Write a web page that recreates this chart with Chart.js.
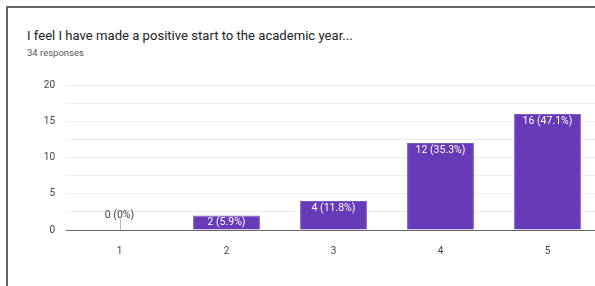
<!DOCTYPE html>
<html lang="en">
<head>
    <meta charset="UTF-8">
    <title>I feel I have made a positive start to the academic year...</title>
    <style>
        html, body { margin: 0; padding: 0; background: #fff; }
        body { width: 595px; height: 286px; overflow: hidden; position: relative; font-family: Roboto, Arial, sans-serif; }
        .frame { position: absolute; left: 6px; top: 6px; width: 620px; height: 300px; border-top: 2px solid #666; border-left: 2px solid #666; }
        .title { position: absolute; left: 27px; top: 28px; font-size: 13.1px; color: #212121; white-space: nowrap; }
        .sub { position: absolute; left: 27px; top: 47px; font-size: 9.5px; color: #555; white-space: nowrap; }
        #wrap { position: absolute; left: 0; top: 0; width: 595px; height: 286px; overflow: hidden; }
    </style>
</head>
<body>
<div class="frame"></div>
<div class="title">I feel I have made a positive start to the academic year...</div>
<div class="sub">34 responses</div>
<div id="wrap"><canvas id="myChart" width="640" height="286"></canvas></div>

<script src="https://cdn.jsdelivr.net/npm/chart.js@4/dist/chart.umd.min.js"></script>
<script>
    var categories = ['1', '2', '3', '4', '5'];
    var counts = [0, 2, 4, 12, 16];
    var percents = ['0%', '5.9%', '11.8%', '35.3%', '47.1%'];

    // labels like "12 (35.3%)", white inside the bar, grey above it when empty
    var barLabels = {
        id: 'barLabels',
        afterDatasetsDraw: function (chart) {
            var ctx = chart.ctx;
            var meta = chart.getDatasetMeta(0);
            ctx.save();
            ctx.font = '10.5px Roboto, Arial, sans-serif';
            ctx.textAlign = 'center';
            ctx.textBaseline = 'middle';
            meta.data.forEach(function (bar, i) {
                var text = counts[i] + ' (' + percents[i] + ')';
                if (counts[i] === 0) {
                    ctx.strokeStyle = '#bbb';
                    ctx.lineWidth = 1;
                    ctx.beginPath();
                    ctx.moveTo(Math.round(bar.x) + 0.5, bar.base);
                    ctx.lineTo(Math.round(bar.x) + 0.5, bar.base - 11);
                    ctx.stroke();
                    ctx.fillStyle = '#444';
                    ctx.fillText(text, bar.x, bar.base - 15);
                } else {
                    ctx.fillStyle = '#fff';
                    ctx.fillText(text, bar.x, bar.y + 7);
                }
            });
            ctx.restore();
        }
    };

    var ctx = document.getElementById('myChart').getContext('2d');
    new Chart(ctx, {
        type: 'bar',
        data: {
            labels: categories,
            datasets: [{
                data: counts,
                backgroundColor: '#673ab7',
                borderColor: '#7e57c2',
                borderWidth: 1,
                categoryPercentage: 1,
                barPercentage: 0.625
            }]
        },
        options: {
            responsive: false,
            animation: false,
            layout: { padding: { top: 85, right: 39, left: 0, bottom: 0 } },
            plugins: { legend: { display: false }, tooltip: { enabled: false }, title: { display: false } },
            scales: {
                x: {
                    grid: { display: false },
                    border: { display: true, color: '#666', width: 1 },
                    ticks: { color: '#444', font: { size: 10, family: 'Roboto, Arial, sans-serif' }, padding: 7 },
                    afterFit: function (s) { s.height = 56; }
                },
                y: {
                    min: 0,
                    max: 20,
                    grid: { color: '#ececec', drawTicks: false },
                    border: { display: false },
                    ticks: {
                        stepSize: 2.5,
                        padding: 11,
                        color: '#444',
                        font: { size: 10, family: 'Roboto, Arial, sans-serif' },
                        callback: function (v) { return v % 5 === 0 ? v : ''; }
                    },
                    afterFit: function (s) { s.width = 66; }
                }
            }
        },
        plugins: [barLabels]
    });
</script>
</body>
</html>
